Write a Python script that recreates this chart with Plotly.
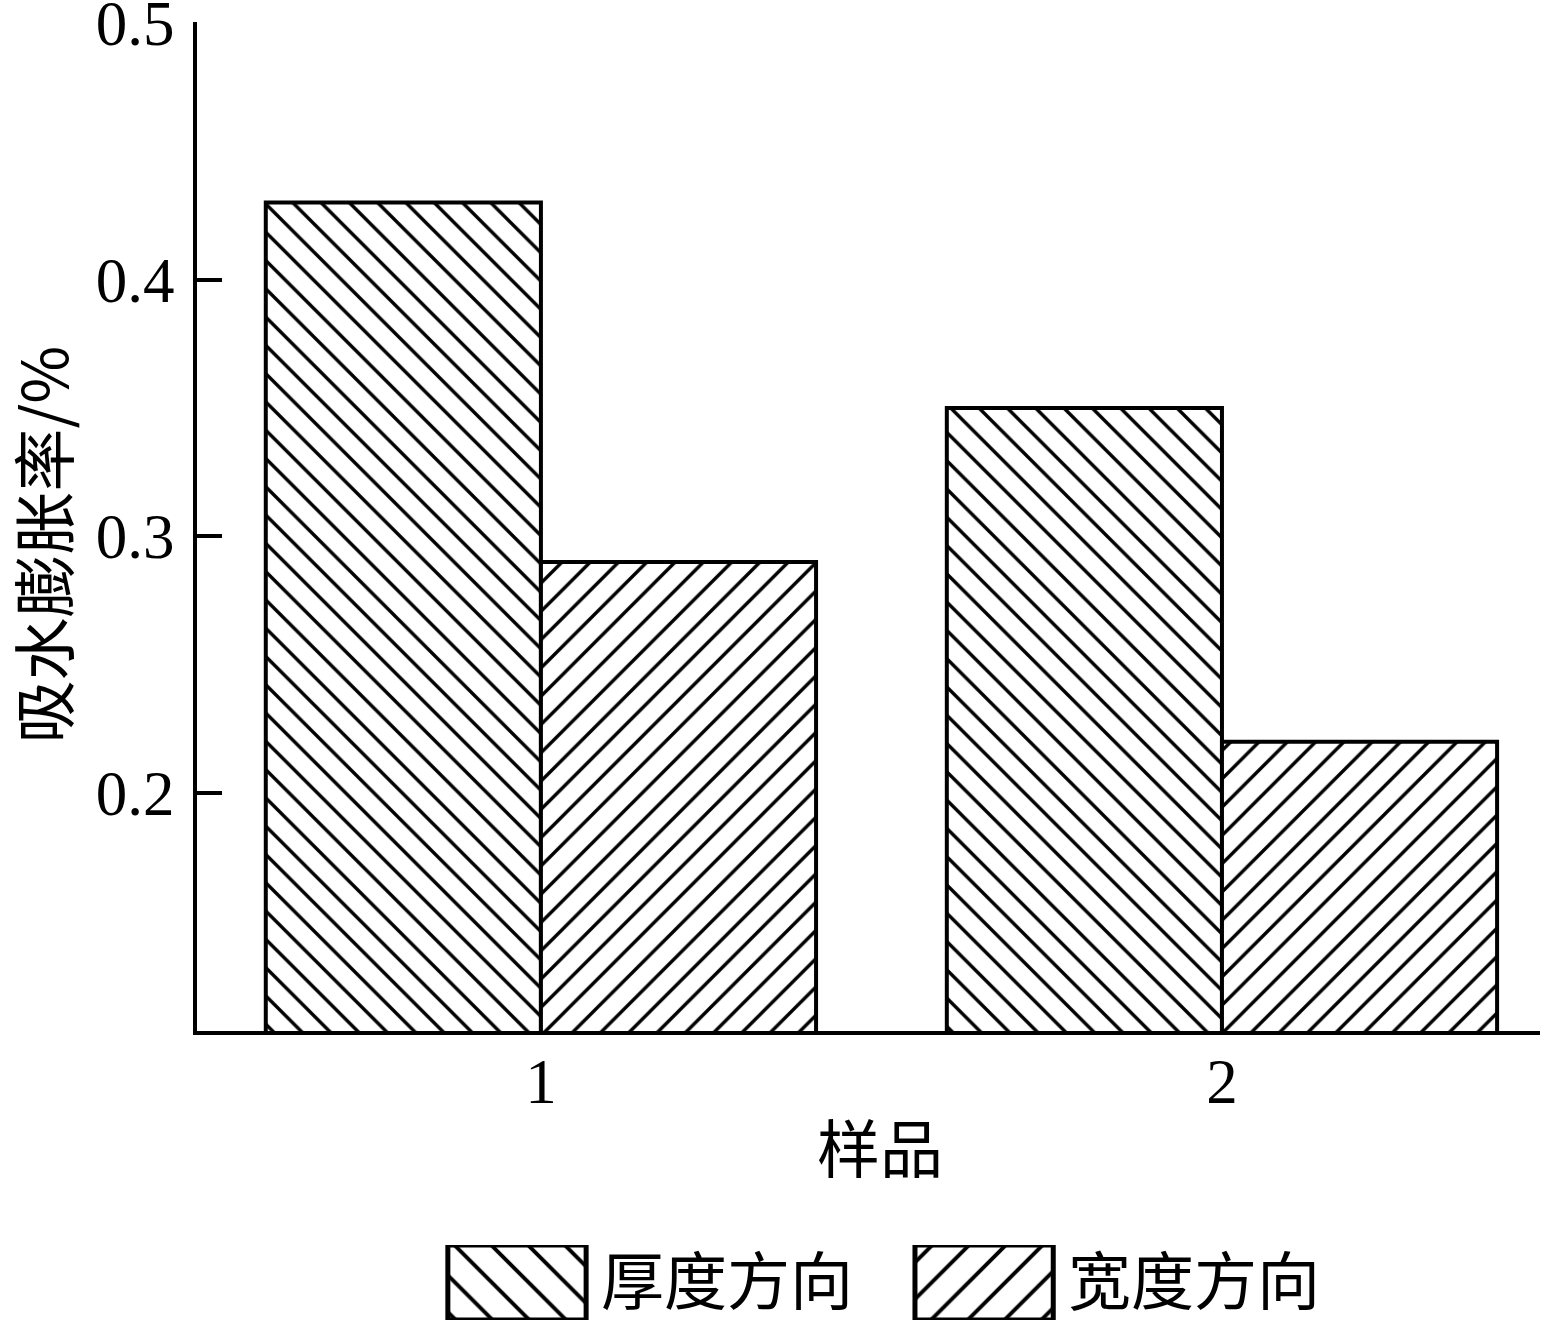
import plotly.graph_objects as go

samples = [1, 2]
tick_labels = ["1", "2"]
thickness = [0.43, 0.35]
width_dir = [0.29, 0.22]
series_names = ["厚度方向", "宽度方向"]
pattern_shapes = ["\\", "/"]
y_ticks = [0.2, 0.3, 0.4, 0.5]
y_tick_labels = ["0.2", "0.3", "0.4", "0.5"]
x_title = "样品"
y_title = "吸水膨胀率/%"

SERIF = "Liberation Serif, Times New Roman, serif"
CJK = "Noto Sans CJK SC"
FS = 63

# page geometry (pixels)
W, H = 1553, 1324
ML, MR, MT, MB = 197, 13, 22, 4
plot_h = H - MT - MB
main_bottom_px = 1031
leg_top_px, leg_bot_px = 1245, 1320
main_dom = [(H - MB - main_bottom_px) / plot_h, 1.0]
leg_dom = [(H - MB - leg_bot_px) / plot_h, (H - MB - leg_top_px) / plot_h]

fig = go.Figure()
for name, vals, shp in zip(series_names, [thickness, width_dir], pattern_shapes):
    fig.add_trace(go.Bar(
        x=samples, y=vals, name=name, showlegend=False,
        marker=dict(color="white", line=dict(color="black", width=4),
                    pattern=dict(shape=shp, fgcolor="black", bgcolor="white", fgopacity=1,
                                 size=20, solidity=0.17)),
        xaxis="x", yaxis="y",
    ))

# legend swatches as a separate small subplot
fig.add_trace(go.Bar(
    x=list(range(len(series_names))), y=[1] * len(series_names), width=0.296,
    showlegend=False, hoverinfo="skip",
    marker=dict(color="white", line=dict(color="black", width=5),
                pattern=dict(shape=pattern_shapes, fgcolor="black", bgcolor="white", fgopacity=1,
                             size=26, solidity=0.15)),
    xaxis="x2", yaxis="y2",
))
for i, name in enumerate(series_names):
    fig.add_annotation(x=i + 0.175, y=0.58, xref="x2", yref="y2", text=name,
                       showarrow=False, xanchor="left", yanchor="middle",
                       font=dict(family=CJK, size=FS, color="black"))

# axis titles
fig.add_annotation(x=-0.1165, y=0.4817, xref="x domain", yref="y domain", text=y_title,
                   textangle=-90, showarrow=False, xanchor="center", yanchor="middle",
                   font=dict(family=CJK, size=FS, color="black"))
fig.add_annotation(x=0.5086, y=-0.112, xref="x domain", yref="y domain", text=x_title,
                   showarrow=False, xanchor="center", yanchor="middle",
                   font=dict(family=CJK, size=FS, color="black"))

fig.update_layout(
    width=W, height=H,
    margin=dict(l=ML, r=MR, t=MT, b=MB, autoexpand=False),
    paper_bgcolor="white", plot_bgcolor="white",
    barmode="group", bargap=0.192, bargroupgap=0,
    font=dict(family=SERIF, size=FS, color="black"),
    showlegend=False,
    xaxis=dict(
        domain=[0, 1], anchor="y",
        range=[0.495, 2.467], tickvals=samples, ticktext=tick_labels,
        showline=True, linecolor="black", linewidth=4, ticks="", showgrid=False, zeroline=False,
        ticklabelstandoff=-8, automargin=False,
    ),
    yaxis=dict(
        domain=main_dom, anchor="x",
        range=[0.1074, 0.5003], tickvals=y_ticks, ticktext=y_tick_labels,
        showline=True, linecolor="black", linewidth=4, ticks="inside", ticklen=25, tickwidth=4,
        tickcolor="black", showgrid=False, zeroline=False, ticklabelstandoff=6, automargin=False,
        ticklabeloverflow="allow",
    ),
    xaxis2=dict(domain=[0, 1], anchor="y2", range=[-0.685, 2.19], visible=False),
    yaxis2=dict(domain=leg_dom, anchor="x2", range=[0, 1], visible=False),
)

fig.write_html("out.html", config={"displayModeBar": False},
               post_script="document.body.style.margin='0';")
